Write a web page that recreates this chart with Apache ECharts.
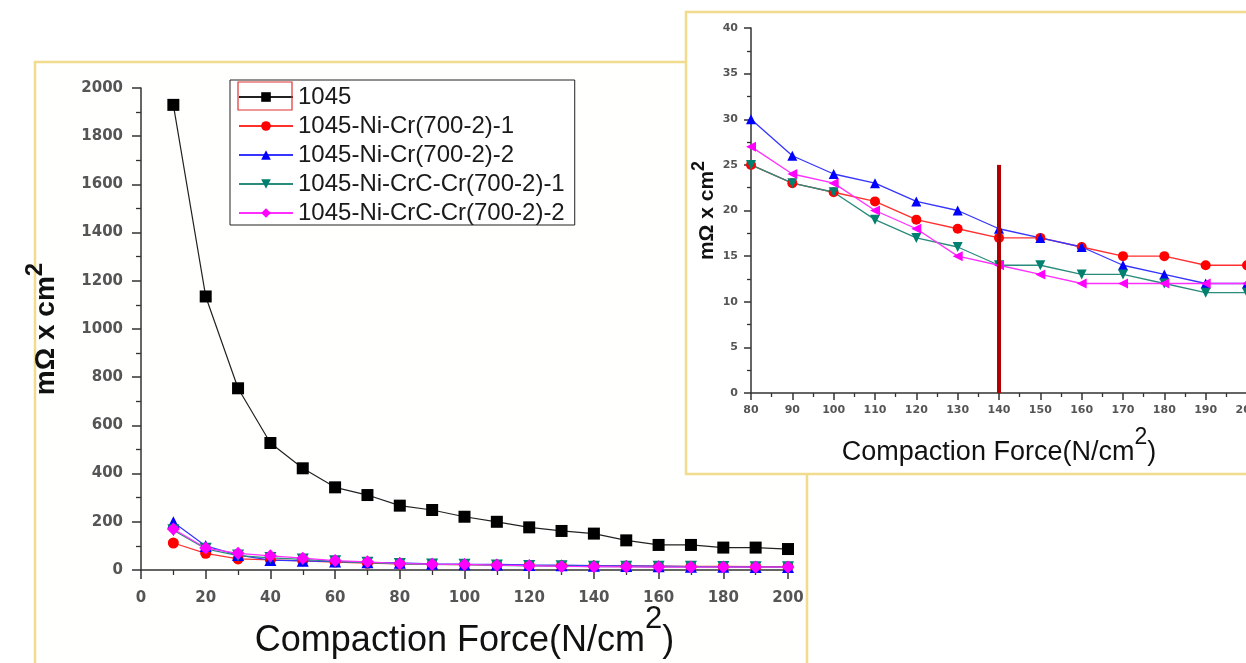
<!DOCTYPE html>
<html lang="en">

<head>
    <title>Compaction Force</title>
    <meta charset="UTF-8">
    <script src="https://cdn.jsdelivr.net/npm/echarts@6/dist/echarts.min.js"></script>
    <style>
        html, body { margin: 0; padding: 0; background: #fff; }
        #mycharts { width: 1246px; height: 663px; }
    </style>
</head>

<body>
    <div id="mycharts"></div>

    <script>
        // compaction force (N/cm2)
        var force = [10, 20, 30, 40, 50, 60, 70, 80, 90, 100, 110, 120, 130, 140, 150, 160, 170, 180, 190, 200];
        var names = ['1045', '1045-Ni-Cr(700-2)-1', '1045-Ni-Cr(700-2)-2', '1045-Ni-CrC-Cr(700-2)-1', '1045-Ni-CrC-Cr(700-2)-2'];
        // resistance, mOhm x cm2
        var s1045 = [1930, 1135, 754, 527, 422, 343, 311, 267, 249, 221, 200, 177, 162, 151, 123, 104, 104, 93, 93, 87];
        var sNiCr1 = [112, 69, 46, 42, 38, 33, 28, 25, 23, 22, 21, 19, 18, 17, 17, 16, 15, 15, 14, 14];
        var sNiCr2 = [198, 100, 62, 41, 38, 35, 32, 30, 26, 24, 23, 21, 20, 18, 17, 16, 14, 13, 12, 12];
        var sCrC1 = [165, 88, 60, 50, 44, 36, 30, 25, 23, 22, 19, 17, 16, 14, 14, 13, 13, 12, 11, 11];
        var sCrC2 = [170, 91, 69, 59, 49, 39, 34, 27, 24, 23, 20, 18, 15, 14, 13, 12, 12, 12, 12, 12];
        // inset starts at 80 N/cm2
        var insetStart = 7;
        var cutLine = [140, 0, 25];

        var colors = ['#000000', '#ff0000', '#0000ff', '#00806e', '#ff00ff'];
        var lineColors = ['#222222', '#ff3030', '#3535ff', '#2a8c7c', '#ff30ff'];
        var font = 'Liberation Sans, Arial, sans-serif';
        var tickFont = 'DejaVu Sans, Verdana, sans-serif';

        var pairs = function (ys, from) {
            var out = [];
            for (var i = from; i < force.length; i++) {
                out.push([force[i], ys[i]]);
            }
            return out;
        }

        var axisCommon = function (fs, tickLen, margin) {
            return {
                type: 'value',
                splitLine: { show: false },
                nameMoveOverlap: false,
                axisLine: { show: true, onZero: false, lineStyle: { color: '#333', width: 1.5 } },
                axisTick: { show: true, length: tickLen, lineStyle: { color: '#333', width: 1.5 } },
                minorTick: { show: true, splitNumber: 2, length: Math.round(tickLen / 2), lineStyle: { color: '#333', width: 1.3 } },
                axisLabel: {
                    color: '#555', fontSize: fs, fontWeight: 'bold', fontFamily: tickFont, margin: margin,
                    formatter: function (v) { return String(v); }
                }
            }
        }

        // base text sits at the bottom of the line box, the superscript at its top
        var nameStyle = function (fs, supFs, lh, bold) {
            return {
                fontFamily: font,
                rich: {
                    b: { fontSize: fs, fontWeight: bold ? 'bold' : 'normal', color: '#111', fontFamily: font, verticalAlign: 'bottom', lineHeight: lh },
                    sup: { fontSize: supFs, fontWeight: bold ? 'bold' : 'normal', color: '#111', fontFamily: font, verticalAlign: 'top', lineHeight: lh }
                }
            }
        }

        var allSeries = [s1045, sNiCr1, sNiCr2, sCrC1, sCrC2];
        var mainSymbols = ['rect', 'circle', 'triangle', 'triangle', 'diamond'];
        var mainRotate = [0, 0, 0, 180, 0];
        var mainSizes = [12, 11, 12, 12, 13];
        var insetSymbols = ['rect', 'circle', 'triangle', 'triangle', 'triangle'];
        var insetRotate = [0, 0, 0, 180, 90];

        var chartsdata = [];
        for (var k = 0; k < allSeries.length; k++) {
            chartsdata.push({
                name: names[k],
                type: 'line',
                xAxisIndex: 0,
                yAxisIndex: 0,
                data: pairs(allSeries[k], 0),
                symbol: mainSymbols[k],
                symbolRotate: mainRotate[k],
                symbolSize: mainSizes[k],
                itemStyle: { color: colors[k] },
                lineStyle: { color: lineColors[k], width: 1.2 },
                animation: false
            });
        }
        // inset: everything except plain 1045
        for (var k = 1; k < allSeries.length; k++) {
            var s = {
                name: names[k],
                type: 'line',
                xAxisIndex: 1,
                yAxisIndex: 1,
                data: pairs(allSeries[k], insetStart),
                symbol: insetSymbols[k],
                symbolRotate: insetRotate[k],
                symbolSize: 10,
                itemStyle: { color: colors[k] },
                lineStyle: { color: lineColors[k], width: 1.3 },
                animation: false
            };
            if (k == 1) {
                s.markLine = {
                    silent: true,
                    symbol: 'none',
                    label: { show: false },
                    lineStyle: { color: '#b00000', width: 4, type: 'solid' },
                    data: [[{ coord: [cutLine[0], cutLine[1]] }, { coord: [cutLine[0], cutLine[2]] }]]
                };
            }
            chartsdata.push(s);
        }

        var mainX = axisCommon(15, 9, 21);
        mainX.gridIndex = 0;
        mainX.min = 0; mainX.max = 200; mainX.interval = 20;
        mainX.name = '{b|Compaction Force(N/cm}{sup|2}{b|)}';
        mainX.nameLocation = 'middle';
        mainX.nameGap = 34;
        mainX.nameTextStyle = nameStyle(36, 31, 55, false);

        var mainY = axisCommon(15, 9, 18);
        mainY.gridIndex = 0;
        mainY.min = 0; mainY.max = 2000; mainY.interval = 200;
        mainY.name = '{b|mΩ x cm}{sup|2}';
        mainY.nameLocation = 'middle';
        mainY.nameGap = 81;
        mainY.nameTextStyle = nameStyle(28, 24, 37, true);

        var insetX = axisCommon(11, 7, 12);
        insetX.gridIndex = 1;
        insetX.min = 80; insetX.max = 200; insetX.interval = 10;
        insetX.name = '{b|Compaction Force(N/cm}{sup|2}{b|)}';
        insetX.nameLocation = 'middle';
        insetX.nameGap = 33;
        insetX.nameTextStyle = nameStyle(27, 23, 40, false);

        var insetY = axisCommon(11, 7, 13);
        insetY.gridIndex = 1;
        insetY.min = 0; insetY.max = 40; insetY.interval = 5;
        insetY.name = '{b|mΩ x cm}{sup|2}';
        insetY.nameLocation = 'middle';
        insetY.nameGap = 33;
        insetY.nameTextStyle = nameStyle(21, 18, 28, true);

        var option = {
            backgroundColor: '#ffffff',
            animation: false,
            textStyle: { fontFamily: font },
            graphic: [
                { type: 'rect', z: -10, shape: { x: 35, y: 62, width: 772, height: 700 }, style: { fill: '#fffffd', stroke: '#f0dc8c', lineWidth: 2.5 } },
                { type: 'rect', z: -5, shape: { x: 686, y: 12, width: 620, height: 462 }, style: { fill: '#ffffff', stroke: '#f0dc8c', lineWidth: 2.5 } },
                { type: 'rect', z: 100, shape: { x: 238, y: 82, width: 54, height: 28 }, style: { fill: 'none', stroke: '#e03030', lineWidth: 1.2 } }
            ],
            legend: {
                orient: 'vertical',
                left: 230,
                top: 80,
                data: names,
                itemWidth: 54,
                itemHeight: 12,
                itemGap: 5,
                padding: [5, 10, 0, 8],
                borderColor: '#222',
                borderWidth: 1,
                backgroundColor: '#fff',
                textStyle: { fontSize: 24, color: '#1a1a1a', fontFamily: font }
            },
            grid: [
                { left: 141, right: 458, top: 88, bottom: 93, containLabel: false, outerBoundsMode: 'none' },
                { left: 751, right: -1, top: 28, bottom: 270, containLabel: false, outerBoundsMode: 'none' }
            ],
            xAxis: [mainX, insetX],
            yAxis: [mainY, insetY],
            series: chartsdata
        };

        var myChart = echarts.init(document.getElementById('mycharts'));
        myChart.setOption(option, true);
    </script>
</body>

</html>
